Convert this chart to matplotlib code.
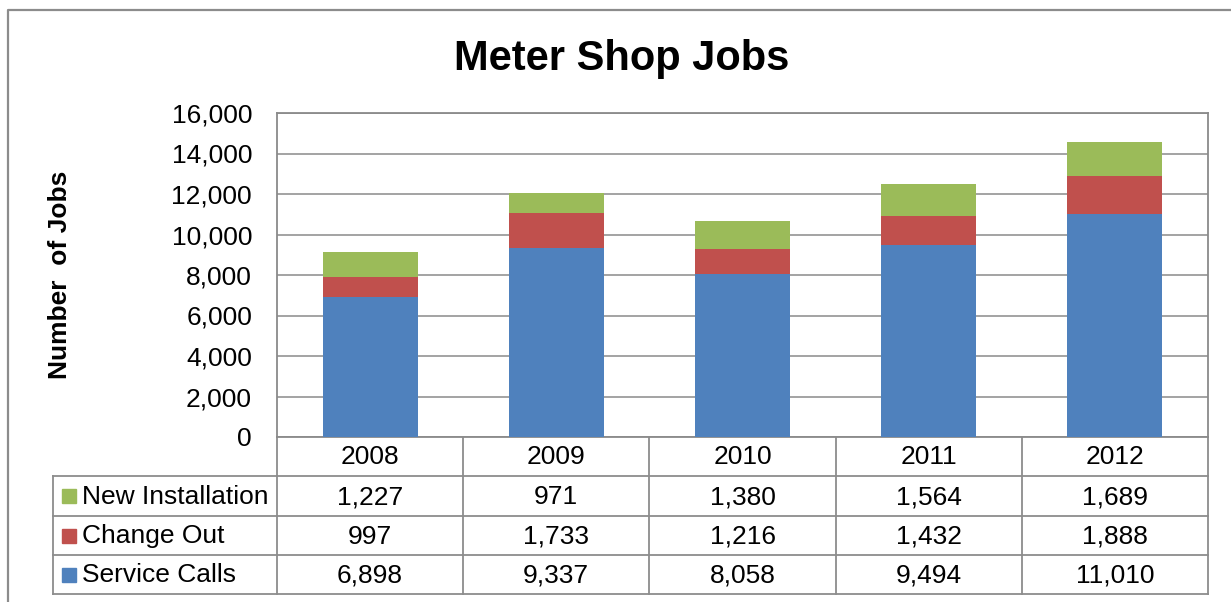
import numpy as np
import matplotlib.pyplot as plt

plt.rcParams['font.family'] = ['Liberation Sans', 'DejaVu Sans']

years = ['2008', '2009', '2010', '2011', '2012']
series_names = ['New Installation', 'Change Out', 'Service Calls']
service_calls = [6898, 9337, 8058, 9494, 11010]
change_out = [997, 1733, 1216, 1432, 1888]
new_install = [1227, 971, 1380, 1564, 1689]
colors = {'Service Calls': '#4F81BD', 'Change Out': '#C0504D', 'New Installation': '#9BBB59'}
values = {'Service Calls': service_calls, 'Change Out': change_out, 'New Installation': new_install}

W, H = 1231, 602
grid_col = '#8a8a8a'

fig = plt.figure(figsize=(W / 100, H / 100), dpi=100)

# pixel-space overlay for frame, title and data table
tab = fig.add_axes([0, 0, 1, 1])
tab.set_xlim(0, W)
tab.set_ylim(H, 0)
tab.axis('off')

# plot area in pixels
px0, px1, py0, py1 = 277, 1208, 113, 437
ax = fig.add_axes([px0 / W, 1 - py1 / H, (px1 - px0) / W, (py1 - py0) / H])

x = np.arange(len(years))
bottom = np.zeros(len(years))
for name in ['Service Calls', 'Change Out', 'New Installation']:
    ax.bar(x, values[name], 0.51, bottom=bottom, color=colors[name], zorder=3)
    bottom += np.array(values[name])

ax.set_xlim(-0.5, len(years) - 0.5)
ax.set_ylim(0, 16000)
ax.set_yticks(np.arange(0, 16001, 2000))
ax.set_yticklabels([f'{v:,}' for v in range(0, 16001, 2000)], fontsize=19)
ax.tick_params(axis='y', length=0, pad=18)
ax.set_xticks([])
ax.grid(axis='y', color=grid_col, linewidth=1.1, zorder=0)
for s in ax.spines.values():
    s.set_color(grid_col)
    s.set_linewidth(1.3)

ax.set_ylabel('Number  of Jobs', fontsize=19, fontweight='bold', labelpad=0)
ax.yaxis.set_label_coords((72 - px0) / (px1 - px0), 0.5)

# outer chart frame (partly cropped)
tab.plot([8, 8, W], [H, 10, 10], color='#8c8c8c', lw=1.6)

tab.text(622, 59, 'Meter Shop Jobs', fontsize=30, fontweight='bold',
         ha='center', va='center')

# data table
col_w = (px1 - px0) / len(years)
row_y = [437, 476, 516, 555, 594]
tx0 = 53
lc = '#8c8c8c'
lw = 1.3
# horizontal lines
for yy in row_y[1:]:
    tab.plot([tx0, px1], [yy, yy], color=lc, lw=lw)
# vertical lines
tab.plot([tx0, tx0], [row_y[1], row_y[4]], color=lc, lw=lw)
for i in range(len(years) + 1):
    xe = px0 + i * col_w
    tab.plot([xe, xe], [row_y[0], row_y[4]], color=lc, lw=lw)

for i, yr in enumerate(years):
    xc = px0 + (i + 0.5) * col_w
    tab.text(xc, (row_y[0] + row_y[1]) / 2 + 1, yr, fontsize=19, ha='center', va='center')

for r, name in enumerate(series_names):
    yc = (row_y[r + 1] + row_y[r + 2]) / 2 + 1
    tab.add_patch(plt.Rectangle((62, yc - 8), 14, 14, color=colors[name]))
    tab.text(82, yc, name, fontsize=19, ha='left', va='center')
    for i, v in enumerate(values[name]):
        xc = px0 + (i + 0.5) * col_w
        tab.text(xc, yc, f'{v:,}', fontsize=19, ha='center', va='center')

fig.savefig('out.png', dpi=100)
